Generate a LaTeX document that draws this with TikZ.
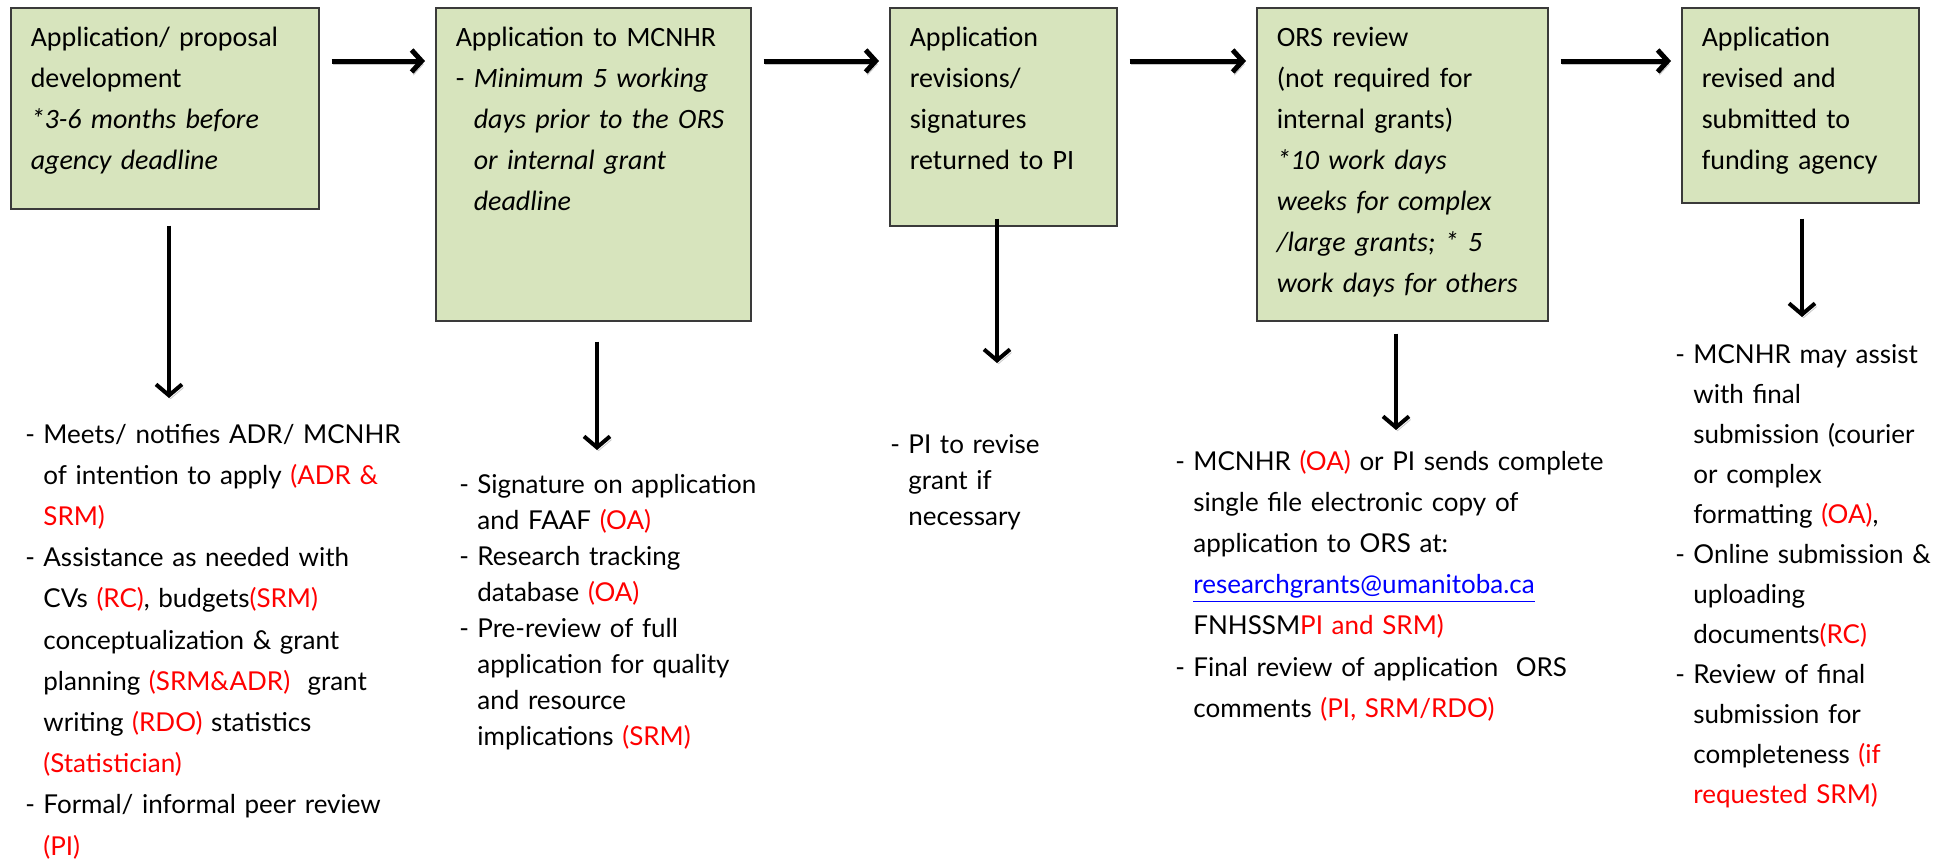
\documentclass[tikz,border=0pt]{standalone}
\usepackage{fontspec}
\setmainfont{Carlito}
\newfontfamily\listfont{Lato}
\usetikzlibrary{arrows.meta}

\definecolor{boxgreen}{HTML}{D7E4BD}
\definecolor{boxline}{HTML}{3A3A3A}
\definecolor{role}{HTML}{FF0000}
\definecolor{mail}{HTML}{0000FF}

% role tags in red, list dashes and hanging indent
\newcommand\who[1]{\textcolor{role}{#1}}
\newcommand\dashitem{\makebox[9pt][l]{-}}
\newcommand\cont{\hspace*{9pt}}

\begin{document}
\begin{tikzpicture}[x=0.5pt,y=-0.5pt,
  stage/.style={draw=boxline, line width=0.75pt, fill=boxgreen,
    anchor=north west, inner xsep=10pt, inner ysep=0pt,
    text height=19.5pt, align=left,
    font=\fontsize{14}{20.5}\selectfont},
  tasks/.style={anchor=base west, inner sep=0pt, text width=260pt,
    align=left, font=\listfont\fontsize{13}{#1}\selectfont},
  tasks/.default=20.6pt,
  shade/.style={preaction={draw=black, draw opacity=0.22,
    transform canvas={xshift=0.8pt,yshift=-1.6pt}}},
  hflow/.style={shade, line width=2.5pt,
    -{Straight Barb[length=5pt,width=11pt]},
    shorten <=6pt, shorten >=5pt},
  vflow/.style={shade, line width=2pt,
    -{Straight Barb[length=5.5pt,width=13pt]}},
]
\useasboundingbox[fill=white] (0,0) rectangle (1955,858);

% process stages
\node[stage, text width=134pt, text depth=81pt] (b1) at (10,7)
  {Application/ proposal\\development\\\textit{*3-6 months before}\\\textit{agency deadline}};
\node[stage, text width=137.5pt, text depth=137pt] (b2) at (435,7)
  {Application to MCNHR\\\dashitem\textit{Minimum 5 working}\\\cont\textit{days prior to the ORS}\\\cont\textit{or internal grant}\\\cont\textit{deadline}};
\node[stage, text width=93.5pt, text depth=89.5pt] (b3) at (889,7)
  {Application\\revisions/\\signatures\\returned to PI};
\node[stage, text width=125.5pt, text depth=137pt] (b4) at (1256,7)
  {ORS review\\(not required for\\internal grants)\\\textit{*10 work days}\\\textit{weeks for complex}\\\textit{/large grants; * 5}\\\textit{work days for others}};
\node[stage, text width=98.5pt, text depth=78pt] (b5) at (1681,7)
  {Application\\revised and\\submitted to\\funding agency};

% tasks under each stage
\node[tasks] (t1) at (25,443) {%
  \dashitem Meets/ notifies ADR/ MCNHR\\
  \cont of intention to apply \who{(ADR \&}\\
  \cont\who{SRM)}\\
  \dashitem Assistance as needed with\\
  \cont CVs \who{(RC)}, budgets\who{(SRM)}\\
  \cont conceptualization \& grant\\
  \cont planning \who{(SRM\&ADR)}\ \ grant\\
  \cont writing \who{(RDO)} statistics\\
  \cont\who{(Statistician)}\\
  \dashitem Formal/ informal peer review\\
  \cont\who{(PI)}};
\node[tasks=18pt] (t2) at (459,493) {%
  \dashitem Signature on application\\
  \cont and FAAF \who{(OA)}\\
  \dashitem Research tracking\\
  \cont database \who{(OA)}\\
  \dashitem Pre-review of full\\
  \cont application for quality\\
  \cont and resource\\
  \cont implications \who{(SRM)}};
\node[tasks=18pt] (t3) at (890,453) {%
  \dashitem PI to revise\\
  \cont grant if\\
  \cont necessary};
\node[tasks] (t4) at (1175,470) {%
  \dashitem MCNHR \who{(OA)} or PI sends complete\\
  \cont single file electronic copy of\\
  \cont application to ORS at:\\
  \cont\textcolor{mail}{\underline{researchgrants@umanitoba.ca}}\\
  \cont FNHSSM\who{PI and SRM)}\\
  \dashitem Final review of application\ \ ORS\\
  \cont comments \who{(PI, SRM/RDO)}};
\node[tasks=20pt] (t5) at (1675,363) {%
  \dashitem MCNHR may assist\\
  \cont with final\\
  \cont submission (courier\\
  \cont or complex\\
  \cont formatting \who{(OA)},\\
  \dashitem Online submission \&\\
  \cont uploading\\
  \cont documents\who{(RC)}\\
  \dashitem Review of final\\
  \cont submission for\\
  \cont completeness \who{(if}\\
  \cont\who{requested SRM)}};

% flow between stages
\draw[hflow] ([yshift=-27pt]b1.north east) -- ([yshift=-27pt]b2.north west);
\draw[hflow] ([yshift=-27pt]b2.north east) -- ([yshift=-27pt]b3.north west);
\draw[hflow] ([yshift=-27pt]b3.north east) -- ([yshift=-27pt]b4.north west);
\draw[hflow] ([yshift=-27pt]b4.north east) -- ([yshift=-27pt]b5.north west);

% from each stage down to its tasks
\coordinate (a1) at (169,398);
\coordinate (a2) at (597,450);
\coordinate (a3) at (997,363);
\coordinate (a4) at (1396,430);
\coordinate (a5) at (1802,317);
\draw[vflow, shorten <=8pt] (b1.south -| a1) -- (a1);
\draw[vflow, shorten <=10pt] (b2.south -| a2) -- (a2);
\draw[vflow, shorten <=-4pt] (b3.south -| a3) -- (a3);
\draw[vflow, shorten <=6pt] (b4.south -| a4) -- (a4);
\draw[vflow, shorten <=7.5pt] (b5.south -| a5) -- (a5);
\end{tikzpicture}
\end{document}
